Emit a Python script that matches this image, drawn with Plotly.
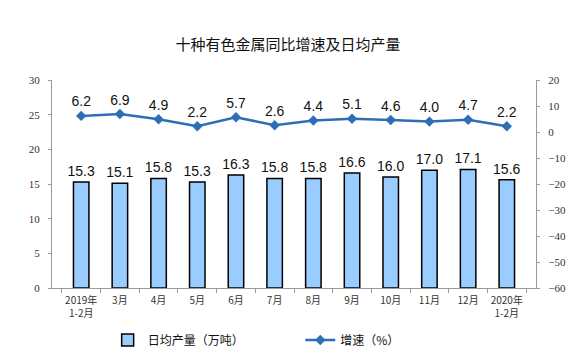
import plotly.graph_objects as go

categories = ["2019年<br>1-2月", "3月", "4月", "5月", "6月", "7月", "8月", "9月", "10月", "11月", "12月", "2020年<br>1-2月"]
output_values = [15.3, 15.1, 15.8, 15.3, 16.3, 15.8, 15.8, 16.6, 16.0, 17.0, 17.1, 15.6]
growth_values = [6.2, 6.9, 4.9, 2.2, 5.7, 2.6, 4.4, 5.1, 4.6, 4.0, 4.7, 2.2]
left_ticks = [0, 5, 10, 15, 20, 25, 30]
right_ticks = [-60, -50, -40, -30, -20, -10, 0, 10, 20]

CJK = "Noto Sans CJK SC"
SERIF = "Liberation Serif"

fig = go.Figure()
fig.add_trace(go.Bar(
    x=categories, y=output_values, name="日均产量（万吨）",
    marker=dict(color="#99CCFF", line=dict(color="#000000", width=1.5)),
    width=0.4,
    text=[f"{v:.1f}" for v in output_values], textposition="outside",
    textangle=0, constraintext="none",
    textfont=dict(family="Liberation Sans", size=14, color="#111"),
    cliponaxis=False, legend="legend",
))
fig.add_trace(go.Scatter(
    x=categories, y=growth_values, name="增速（%）", yaxis="y2",
    mode="lines+markers+text",
    line=dict(color="#2E6EB5", width=2.5),
    marker=dict(symbol="diamond", size=8, color="#2E6EB5"),
    text=[f"{v:.1f}" for v in growth_values], textposition="top center",
    textfont=dict(family="Liberation Sans", size=14, color="#111"),
    cliponaxis=False, legend="legend2",
))

fig.update_layout(
    width=576, height=356,
    margin=dict(l=52, r=40, t=80, b=68, autoexpand=False),
    paper_bgcolor="white", plot_bgcolor="white",
    title=dict(text="十种有色金属同比增速及日均产量", x=0.5, xanchor="center", y=0.875, yanchor="middle",
               font=dict(family=CJK, size=15, color="#111")),
    xaxis=dict(
        showline=True, linecolor="#999", linewidth=1,
        ticks="outside", tickcolor="#999", ticklen=4, tickson="boundaries",
        tickangle=0, automargin=False, ticklabelstandoff=3,
        tickfont=dict(family=CJK, size=10, color="#333"),
        showgrid=False,
    ),
    yaxis=dict(
        range=[0, 30], tickvals=left_ticks, showline=True, linecolor="#999", linewidth=1,
        ticks="outside", tickcolor="#999", ticklen=3, ticklabelstandoff=6, automargin=False,
        tickfont=dict(family=SERIF, size=11, color="#333"), showgrid=False, zeroline=False,
    ),
    yaxis2=dict(
        range=[-60, 20], tickvals=right_ticks, overlaying="y", side="right",
        showline=True, linecolor="#999", linewidth=1, automargin=False,
        ticks="outside", tickcolor="#999", ticklen=3, ticklabelstandoff=6,
        tickfont=dict(family=SERIF, size=11, color="#333"), showgrid=False, zeroline=False,
    ),
    legend=dict(x=0.115, y=-0.25, xanchor="left", yanchor="middle", orientation="h",
                font=dict(family=CJK, size=12, color="#111"), bgcolor="rgba(0,0,0,0)"),
    legend2=dict(x=0.513, y=-0.25, xanchor="left", yanchor="middle", orientation="h",
                 font=dict(family=CJK, size=12, color="#111"), bgcolor="rgba(0,0,0,0)"),
    showlegend=True,
)

fig.write_html("out.html", config={"displayModeBar": False},
               post_script="document.body.style.margin='0';document.body.style.padding='0';")
